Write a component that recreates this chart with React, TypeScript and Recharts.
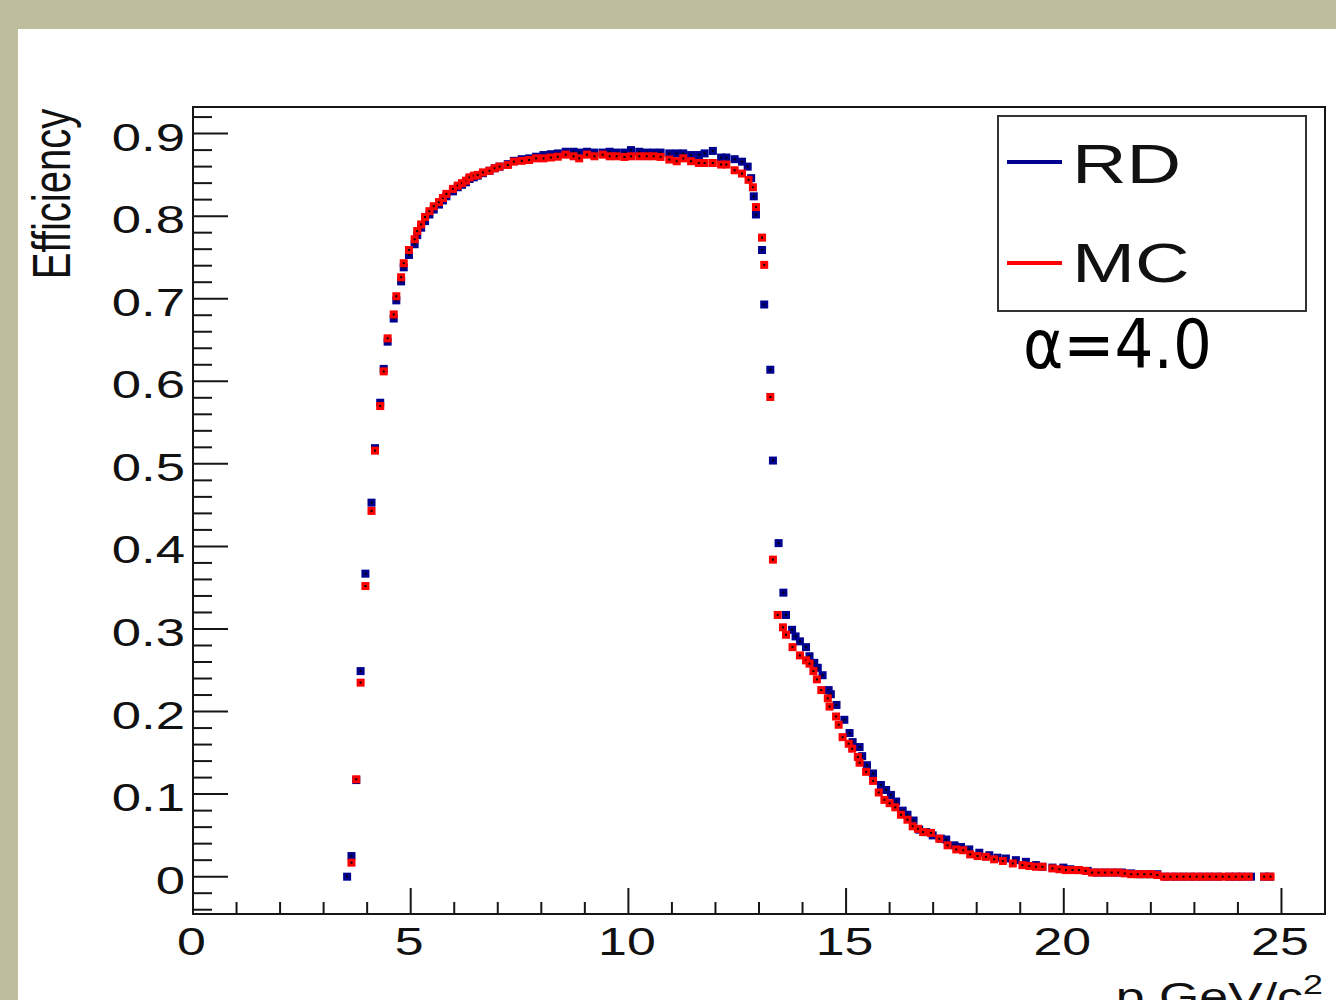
import React from 'react';
import { ScatterChart, Scatter, XAxis, YAxis, ReferenceArea, Legend, Label } from 'recharts';

// Efficiency vs momentum, RD (real data) and MC
const rdPoints: [number, number][] = [
  [3.54, 0], [3.64, 0.025], [3.75, 0.117], [3.85, 0.249], [3.96, 0.367], [4.1, 0.453], [4.18, 0.519], [4.3, 0.574],
  [4.38, 0.615], [4.47, 0.648], [4.61, 0.676], [4.67, 0.698], [4.78, 0.721], [4.84, 0.738], [4.96, 0.753], [5.09, 0.766],
  [5.15, 0.777], [5.24, 0.786], [5.33, 0.794], [5.43, 0.802], [5.53, 0.808], [5.65, 0.814], [5.74, 0.819], [5.82, 0.824],
  [5.97, 0.83], [6.08, 0.835], [6.18, 0.838], [6.27, 0.841], [6.35, 0.845], [6.45, 0.847], [6.54, 0.849], [6.66, 0.852],
  [6.81, 0.855], [6.93, 0.858], [7.04, 0.86], [7.23, 0.863], [7.37, 0.867], [7.55, 0.869], [7.72, 0.87], [7.88, 0.872],
  [8.05, 0.874], [8.22, 0.875], [8.38, 0.876], [8.56, 0.878], [8.74, 0.878], [8.87, 0.877], [9.05, 0.878], [9.22, 0.877],
  [9.41, 0.877], [9.57, 0.878], [9.73, 0.877], [9.91, 0.877], [10.06, 0.88], [10.25, 0.878], [10.42, 0.877], [10.58, 0.877],
  [10.74, 0.877], [10.94, 0.876], [11.11, 0.876], [11.26, 0.876], [11.44, 0.874], [11.62, 0.874], [11.75, 0.876], [11.94, 0.879],
  [12.13, 0.871], [12.25, 0.871], [12.44, 0.869], [12.61, 0.866], [12.74, 0.86], [12.82, 0.846], [12.88, 0.824], [12.93, 0.802],
  [13.07, 0.759], [13.12, 0.693], [13.26, 0.614], [13.32, 0.504], [13.45, 0.404], [13.56, 0.344], [13.62, 0.317], [13.76, 0.299],
  [13.84, 0.291], [13.94, 0.285], [14.08, 0.278], [14.16, 0.267], [14.27, 0.259], [14.35, 0.253], [14.46, 0.244], [14.6, 0.226],
  [14.65, 0.221], [14.78, 0.208], [14.96, 0.19], [15.08, 0.174], [15.15, 0.163], [15.31, 0.157], [15.37, 0.146], [15.48, 0.135],
  [15.62, 0.125], [15.8, 0.111], [15.92, 0.105], [16.03, 0.099], [16.15, 0.091], [16.3, 0.08], [16.41, 0.075], [16.55, 0.068],
  [16.68, 0.057], [16.84, 0.054], [16.99, 0.05], [17.18, 0.046], [17.3, 0.045], [17.49, 0.038], [17.64, 0.036], [17.83, 0.033],
  [18.06, 0.029], [18.29, 0.026], [18.48, 0.023], [18.67, 0.022], [18.9, 0.02], [19.13, 0.018], [19.36, 0.014], [19.51, 0.012],
  [19.74, 0.011], [19.99, 0.011], [20.15, 0.009], [20.35, 0.008], [20.55, 0.007], [20.75, 0.005], [20.95, 0.005], [21.15, 0.005],
  [21.34, 0.005], [21.55, 0.004], [21.75, 0.003], [21.95, 0.003], [22.15, 0.003], [22.35, 0], [22.55, 0], [22.75, 0],
  [22.95, 0], [23.15, 0], [23.35, 0], [23.55, 0], [23.8, 0], [23.95, 0], [24.1, 0], [24.3, 0], [24.6, 0], [24.73, 0],
];

const mcPoints: [number, number][] = [
  [3.64, 0.017], [3.75, 0.118], [3.85, 0.235], [3.96, 0.352], [4.1, 0.443], [4.18, 0.516], [4.3, 0.57], [4.38, 0.612],
  [4.47, 0.652], [4.61, 0.681], [4.67, 0.703], [4.78, 0.726], [4.84, 0.743], [4.96, 0.759], [5.09, 0.772], [5.15, 0.782],
  [5.24, 0.79], [5.33, 0.799], [5.43, 0.806], [5.53, 0.812], [5.65, 0.817], [5.74, 0.822], [5.82, 0.827], [5.97, 0.833],
  [6.08, 0.837], [6.18, 0.84], [6.27, 0.843], [6.35, 0.847], [6.45, 0.849], [6.54, 0.85], [6.66, 0.853], [6.81, 0.855],
  [6.93, 0.858], [7.04, 0.86], [7.23, 0.862], [7.37, 0.866], [7.55, 0.867], [7.72, 0.868], [7.88, 0.87], [8.05, 0.87],
  [8.22, 0.871], [8.38, 0.872], [8.56, 0.8745], [8.74, 0.8725], [8.87, 0.87], [9.05, 0.8745], [9.22, 0.8725], [9.41, 0.8745],
  [9.57, 0.8725], [9.73, 0.8725], [9.91, 0.8717], [10.06, 0.8725], [10.25, 0.8725], [10.42, 0.8725], [10.58, 0.8725], [10.74, 0.8717],
  [10.94, 0.8685], [11.11, 0.8665], [11.26, 0.87], [11.44, 0.8665], [11.62, 0.8644], [11.75, 0.8644], [11.94, 0.8644], [12.13, 0.8625],
  [12.25, 0.8625], [12.44, 0.8556], [12.61, 0.8516], [12.76, 0.844], [12.86, 0.835], [12.93, 0.811], [13.07, 0.774], [13.12, 0.741],
  [13.26, 0.581], [13.32, 0.384], [13.43, 0.317], [13.55, 0.302], [13.62, 0.293], [13.77, 0.278], [13.94, 0.268], [14.08, 0.262],
  [14.16, 0.258], [14.25, 0.249], [14.33, 0.239], [14.43, 0.226], [14.58, 0.216], [14.62, 0.206], [14.77, 0.194], [14.83, 0.184],
  [14.92, 0.169], [15.06, 0.161], [15.14, 0.155], [15.27, 0.145], [15.31, 0.138], [15.46, 0.127], [15.62, 0.116], [15.75, 0.102],
  [15.88, 0.093], [16.0, 0.089], [16.13, 0.084], [16.26, 0.075], [16.41, 0.069], [16.53, 0.061], [16.65, 0.058], [16.77, 0.054],
  [16.95, 0.053], [17.14, 0.046], [17.33, 0.038], [17.53, 0.033], [17.69, 0.032], [17.85, 0.027], [18.02, 0.025], [18.21, 0.024],
  [18.4, 0.021], [18.6, 0.019], [18.83, 0.016], [19.05, 0.014], [19.21, 0.013], [19.36, 0.012], [19.51, 0.012], [19.74, 0.01],
  [19.9, 0.009], [20.05, 0.008], [20.2, 0.008], [20.35, 0.008], [20.5, 0.007], [20.65, 0.005], [20.8, 0.005], [20.95, 0.005],
  [21.1, 0.005], [21.25, 0.005], [21.4, 0.004], [21.55, 0.003], [21.7, 0.003], [21.85, 0.003], [22.0, 0.003], [22.15, 0.002],
  [22.3, 0], [22.45, 0], [22.6, 0], [22.75, 0], [22.9, 0], [23.05, 0], [23.2, 0], [23.35, 0],
  [23.5, 0], [23.65, 0], [23.8, 0], [23.95, 0], [24.1, 0], [24.25, 0], [24.6, 0], [24.75, 0],
];

const xTicks = [0, 1, 2, 3, 4, 5, 6, 7, 8, 9, 10, 11, 12, 13, 14, 15, 16, 17, 18, 19, 20, 21, 22, 23, 24, 25];
const xTickLabels: Record<number, string> = { 0: '0', 5: '5', 10: '10', 15: '15', 20: '20', 25: '25' };
const yTicks = [
  -0.04, -0.02, 0, 0.02, 0.04, 0.06, 0.08, 0.1, 0.12, 0.14, 0.16, 0.18, 0.2, 0.22, 0.24, 0.26, 0.28, 0.3,
  0.32, 0.34, 0.36, 0.38, 0.4, 0.42, 0.44, 0.46, 0.48, 0.5, 0.52, 0.54, 0.56, 0.58, 0.6, 0.62, 0.64, 0.66,
  0.68, 0.7, 0.72, 0.74, 0.76, 0.78, 0.8, 0.82, 0.84, 0.86, 0.88, 0.9, 0.92,
];
const yTickLabels = ['0', '0.1', '0.2', '0.3', '0.4', '0.5', '0.6', '0.7', '0.8', '0.9'];
const xDomain: [number, number] = [0, 26];
const yDomain: [number, number] = [-0.0452, 0.9322];

const rdData = rdPoints.map(([x, y]) => ({ x, y }));
const mcData = mcPoints.map(([x, y]) => ({ x, y }));

const BLUE = '#00008f';
const RED = '#ff0000';
const INK = '#161616';
const FONT = '"Liberation Sans", Arial, Helvetica, sans-serif';
const SX = 1.35;

const YTick = (props: any) => {
  const { x, y, payload } = props;
  const v = payload.value as number;
  const idx = Math.round(v * 10);
  const major = Math.abs(v * 10 - idx) < 1e-6 && idx >= 0;
  return (
    <g>
      <line x1={x} y1={y} x2={x + (major ? 35 : 19)} y2={y} stroke={INK} strokeWidth={2} />
      {major && (
        <text transform={`translate(${x - 8},${y + 17}) scale(${SX},1)`} textAnchor="end" fontFamily={FONT} fontSize={39} fill="#111">
          {yTickLabels[idx]}
        </text>
      )}
    </g>
  );
};

const XTick = (props: any) => {
  const { x, y, payload } = props;
  const v = payload.value as number;
  const label = xTickLabels[v];
  const major = label !== undefined;
  return (
    <g>
      <line x1={x} y1={y} x2={x} y2={y - (major ? 26 : 12)} stroke={INK} strokeWidth={2} />
      {major && (
        <text transform={`translate(${x - 1.5},${y + 41}) scale(1.33,1)`} textAnchor="middle" fontFamily={FONT} fontSize={39} fill="#111">
          {label}
        </text>
      )}
    </g>
  );
};

const makeShape = (color: string) => (props: any) => {
  const { cx, cy } = props;
  if (cx == null || cy == null) return <g />;
  return (
    <g>
      <rect x={cx - 4} y={cy - 4} width={8} height={8} fill={color} />
      <rect x={cx - 1} y={cy - 1} width={2} height={2} fill="#000" />
    </g>
  );
};

const XTitle = (props: any) => {
  const vb = props.viewBox || { x: 0, y: 0, width: 0, height: 0 };
  return (
    <text transform={`translate(${vb.x + vb.width - 2},${vb.y + 96}) scale(1.33,1)`} textAnchor="end" fontFamily={FONT} fontSize={39} fill="#111">
      p GeV/c<tspan fontSize={27} dy={-16}>2</tspan>
    </text>
  );
};

const YTitle = (props: any) => {
  const vb = props.viewBox || { x: 0, y: 0, width: 0, height: 0 };
  return (
    <text transform={`translate(${vb.x + 70},${vb.y + 87}) scale(1.32,1) rotate(-90)`} textAnchor="middle" fontFamily={FONT} fontSize={40} fill="#111">
      Efficiency
    </text>
  );
};

const LegendBox = () => (
  <svg width={330} height={270} style={{ display: 'block', overflow: 'visible' }}>
    <rect x={1} y={1} width={308} height={195} fill="#fff" stroke="#333" strokeWidth={2} />
    <line x1={10} x2={65} y1={47} y2={47} stroke={BLUE} strokeWidth={4} />
    <text transform="translate(75,68) scale(1.35,1)" fontFamily={FONT} fontSize={56} fill="#111">RD</text>
    <line x1={10} x2={65} y1={148} y2={148} stroke={RED} strokeWidth={4} />
    <text transform="translate(75,167) scale(1.35,1)" fontFamily={FONT} fontSize={56} fill="#111">MC</text>
    <text x={26} y={253} fontFamily='"DejaVu Sans Condensed", "DejaVu Sans", sans-serif' fontSize={68} fill="#000">α=4.0</text>
  </svg>
);

export default function App() {
  return (
    <div style={{ position: 'absolute', left: 0, top: 0, width: 1336, height: 1000, background: '#bebd9e', overflow: 'hidden' }}>
      <div style={{ position: 'absolute', left: 18, top: 29, right: 0, bottom: 0, background: '#ffffff' }} />
      <div style={{ position: 'absolute', left: 0, top: 0 }}>
        <ScatterChart width={1336} height={1000} margin={{ top: 107, right: 11, bottom: 0, left: 0 }}>
          <XAxis
            type="number"
            dataKey="x"
            domain={xDomain}
            allowDataOverflow
            ticks={xTicks}
            interval={0}
            tick={<XTick />}
            tickLine={false}
            axisLine={false}
            tickSize={0}
            tickMargin={0}
            height={86}
          >
            <Label content={<XTitle />} />
          </XAxis>
          <YAxis
            type="number"
            dataKey="y"
            domain={yDomain}
            allowDataOverflow
            ticks={yTicks}
            interval={0}
            tick={<YTick />}
            tickLine={false}
            axisLine={false}
            tickSize={0}
            tickMargin={0}
            width={193}
          >
            <Label content={<YTitle />} />
          </YAxis>
          <ReferenceArea x1={xDomain[0]} x2={xDomain[1]} y1={yDomain[0]} y2={yDomain[1]} fill="none" fillOpacity={0} stroke={INK} strokeWidth={2} ifOverflow="visible" />
          <Scatter name="RD" data={rdData} fill={BLUE} shape={makeShape(BLUE)} isAnimationActive={false} />
          <Scatter name="MC" data={mcData} fill={RED} shape={makeShape(RED)} isAnimationActive={false} />
          <Legend
            layout="horizontal"
            verticalAlign="middle"
            align="center"
            content={() => <LegendBox />}
            wrapperStyle={{ position: 'absolute', left: 997, top: 115, width: 330, height: 270, margin: 0 }}
          />
        </ScatterChart>
      </div>
    </div>
  );
}
